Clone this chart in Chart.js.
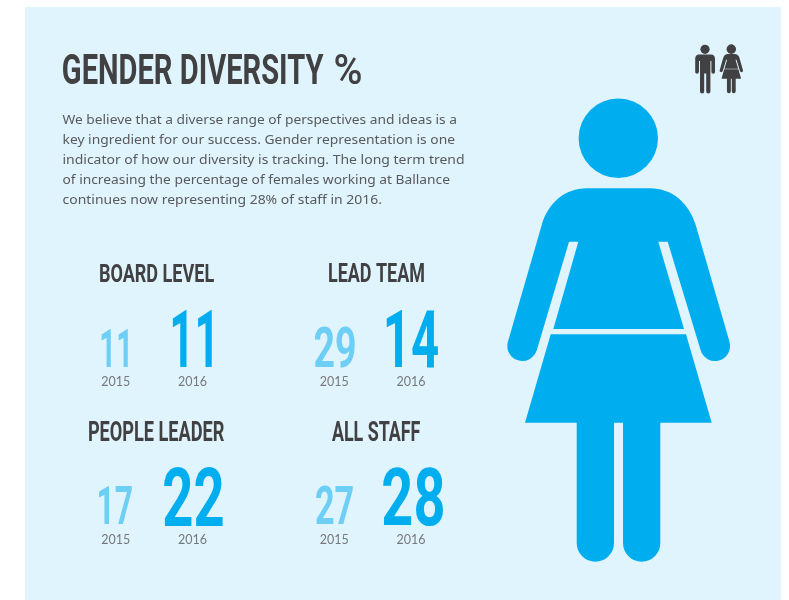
<!DOCTYPE html>
<html>
<head>
<meta charset="utf-8">
<style>html,body{margin:0;padding:0;background:#fff}canvas{display:block}</style>
<script src="https://cdn.jsdelivr.net/npm/chart.js@4/dist/chart.umd.min.js"></script>
</head>
<body>
<canvas id="c" width="789" height="600"></canvas>
<script>
// ---- data ----
const categories = ['BOARD LEVEL', 'LEAD TEAM', 'PEOPLE LEADER', 'ALL STAFF'];
const years = ['2015', '2016'];
const values2015 = [11, 29, 17, 27];
const values2016 = [11, 14, 22, 28];
const titleWords = 'GENDER DIVERSITY';
const titleMark = '%';
const paragraph = [
  'We believe that a diverse range of perspectives and ideas is a',
  'key ingredient for our success. Gender representation is one',
  'indicator of how our diversity is tracking. The long term trend',
  'of increasing the percentage of females working at Ballance',
  'continues now representing 28% of staff in 2016.'
];

// ---- layout (pixels on identity scales) ----
const paragraphEnds = [457, 455, 464.5, 450, 382];
const headingBoxes = [[100,263,214,282],[329,263,424,282],[89,421,224,441],[332,421,420,441]];
const boxes2015 = [[101.7,328,128,367],[314.7,327,355,367.6],[99,486,132,525],[316,486,353,525]];
const boxes2016 = [[172.7,309,212,367],[386.7,309,438,367],[164,466,223,525.6],[383,466,443,525.6]];
const yearCentres2015 = [115.7, 334.3, 115.7, 334.3];
const yearCentres2016 = [192.5, 411, 192.5, 411];
const yearBaselines = [386, 386, 544, 544];

const DARK = '#414042', BLUE = '#00aeef', LIGHT = '#6dcff6', PANEL = '#e0f4fe', BODY = '#58595b', GREY = '#77787b';
const HEAD = '"Roboto","Liberation Sans"', BODYF = '"Noto Sans","Open Sans"';

function fitText(ctx, text, box, font, color) {
  const [x1, y1, x2, y2] = box;
  ctx.save();
  ctx.font = font;
  ctx.textAlign = 'left';
  ctx.textBaseline = 'alphabetic';
  ctx.fillStyle = color;
  const m = ctx.measureText(text);
  const w = m.actualBoundingBoxLeft + m.actualBoundingBoxRight;
  const h = m.actualBoundingBoxAscent + m.actualBoundingBoxDescent;
  ctx.translate(x1, y2);
  ctx.scale((x2 - x1) / w, (y2 - y1) / h);
  ctx.fillText(text, m.actualBoundingBoxLeft, -m.actualBoundingBoxDescent);
  ctx.restore();
}
function lineText(ctx, text, x1, x2, base, font, color) {
  ctx.save();
  ctx.font = font;
  ctx.textAlign = 'left';
  ctx.textBaseline = 'alphabetic';
  ctx.fillStyle = color;
  const w = ctx.measureText(text).width;
  ctx.translate(x1, base);
  ctx.scale((x2 - x1) / w, 1);
  ctx.fillText(text, 0, 0);
  ctx.restore();
}
function womanPath(ctx, X, Y) {
  // head
  ctx.beginPath();
  ctx.arc(X(618.3), Y(138.3), (X(39.7) - X(0)), 0, Math.PI * 2);
  ctx.closePath();
  // torso and arms
  const r = X(15) - X(0);
  ctx.moveTo(X(586.7), Y(188.3));
  ctx.lineTo(X(650), Y(188.3));
  ctx.bezierCurveTo(X(672), Y(188.3), X(689), Y(203), X(695.7), Y(225));
  ctx.lineTo(X(729.6), Y(342));
  ctx.arc(X(715), Y(346), r, -0.27, 2.85, false);
  ctx.lineTo(X(667.7), Y(241.7));
  ctx.lineTo(X(658.3), Y(241.7));
  ctx.lineTo(X(684), Y(329));
  ctx.lineTo(X(553.3), Y(329));
  ctx.lineTo(X(578.3), Y(241.7));
  ctx.lineTo(X(569), Y(241.7));
  ctx.lineTo(X(536.9), Y(350));
  ctx.arc(X(522.3), Y(346), r, 0.29, Math.PI + 0.27, false);
  ctx.lineTo(X(541.7), Y(225));
  ctx.bezierCurveTo(X(548), Y(203), X(565), Y(188.3), X(586.7), Y(188.3));
  ctx.closePath();
  // skirt and legs
  const lr = X(18.65) - X(0);
  ctx.moveTo(X(550.7), Y(334.3));
  ctx.lineTo(X(686), Y(334.3));
  ctx.lineTo(X(711.7), Y(422.7));
  ctx.lineTo(X(660.3), Y(422.7));
  ctx.lineTo(X(660.3), Y(543));
  ctx.arc(X(641.65), Y(543), lr, 0, Math.PI, false);
  ctx.lineTo(X(623), Y(422.7));
  ctx.lineTo(X(614), Y(422.7));
  ctx.lineTo(X(614), Y(543));
  ctx.arc(X(595.35), Y(543), lr, 0, Math.PI, false);
  ctx.lineTo(X(576.7), Y(422.7));
  ctx.lineTo(X(525), Y(422.7));
  ctx.closePath();
  ctx.fill();
}
function manIcon(ctx) {
  ctx.fillStyle = DARK;
  ctx.beginPath();
  ctx.arc(705, 49.3, 4.6, 0, Math.PI * 2);
  ctx.fill();
  ctx.beginPath();
  ctx.moveTo(699, 54.5);
  ctx.lineTo(711, 54.5);
  ctx.quadraticCurveTo(715, 54.5, 715, 59);
  ctx.lineTo(715, 72);
  ctx.arc(713.2, 72, 1.8, 0, Math.PI);
  ctx.lineTo(711.4, 61);
  ctx.lineTo(710.4, 61);
  ctx.lineTo(710.4, 91.5);
  ctx.arc(708.3, 91.5, 2.1, 0, Math.PI);
  ctx.lineTo(706.2, 73.5);
  ctx.lineTo(704.2, 73.5);
  ctx.lineTo(704.2, 91.5);
  ctx.arc(702.1, 91.5, 2.1, 0, Math.PI);
  ctx.lineTo(700, 61);
  ctx.lineTo(699, 61);
  ctx.lineTo(699, 72);
  ctx.arc(697, 72, 1.8, 0, Math.PI);
  ctx.lineTo(695.2, 59);
  ctx.quadraticCurveTo(695.2, 54.5, 699, 54.5);
  ctx.closePath();
  ctx.fill();
}

const drawPlugin = {
  id: 'infographic',
  beforeDatasetsDraw(chart) {
    const ctx = chart.ctx, sx = chart.scales.x, sy = chart.scales.y;
    const X = v => sx.getPixelForValue(v), Y = v => sy.getPixelForValue(v);
    ctx.save();
    ctx.fillStyle = '#ffffff';
    ctx.fillRect(0, 0, 789, 600);
    ctx.fillStyle = PANEL;
    ctx.fillRect(X(25), Y(7), X(781) - X(25), Y(600) - Y(7));
    fitText(ctx, titleWords, [63, 53, 323.5, 84.5], '700 100px ' + HEAD, DARK);
    fitText(ctx, titleMark, [335, 53, 361, 84.5], '500 100px ' + HEAD, DARK);
    paragraph.forEach((l, i) => lineText(ctx, l, 62.5, paragraphEnds[i], 124 + i * 20, '13px ' + BODYF, BODY));
    categories.forEach((c, i) => fitText(ctx, c, headingBoxes[i], '700 100px ' + HEAD, DARK));
    ctx.fillStyle = BLUE;
    womanPath(ctx, X, Y);
    manIcon(ctx);
    ctx.fillStyle = DARK;
    const k = 0.105;
    womanPath(ctx, v => 731.3 + (v - 618.3) * k, v => 44.6 + (v - 98.6) * k);
    ctx.beginPath();
    ctx.arc(731.3, 49.2, 4.7, 0, Math.PI * 2);
    ctx.fill();
    ctx.restore();
  },
  afterDatasetsDraw(chart) {
    const ctx = chart.ctx;
    [[boxes2015, LIGHT, '700 100px '], [boxes2016, BLUE, '700 100px ']].forEach(([boxes, col, f], d) => {
      const meta = chart.getDatasetMeta(d);
      const ds = chart.data.datasets[d];
      meta.data.forEach((pt, i) => {
        fitText(ctx, String(ds.data[i].value), boxes[i], f + HEAD, col);
        ctx.save();
        ctx.font = '12.5px Lato, "Open Sans"';
        ctx.fillStyle = GREY;
        ctx.textAlign = 'center';
        ctx.textBaseline = 'alphabetic';
        ctx.fillText(years[d], pt.x, yearBaselines[i]);
        ctx.restore();
      });
    });
  }
};

new Chart(document.getElementById('c'), {
  type: 'scatter',
  data: {
    datasets: [
      { label: years[0], pointRadius: 0, backgroundColor: LIGHT,
        data: values2015.map((v, i) => ({ x: yearCentres2015[i], y: yearBaselines[i], value: v })) },
      { label: years[1], pointRadius: 0, backgroundColor: BLUE,
        data: values2016.map((v, i) => ({ x: yearCentres2016[i], y: yearBaselines[i], value: v })) }
    ]
  },
  options: {
    responsive: false,
    animation: false,
    layout: { padding: 0 },
    plugins: { legend: { display: false }, tooltip: { enabled: false } },
    scales: {
      x: { type: 'linear', min: 0, max: 789, display: false },
      y: { type: 'linear', min: 0, max: 600, reverse: true, display: false }
    }
  },
  plugins: [drawPlugin]
});
</script>
</body>
</html>
